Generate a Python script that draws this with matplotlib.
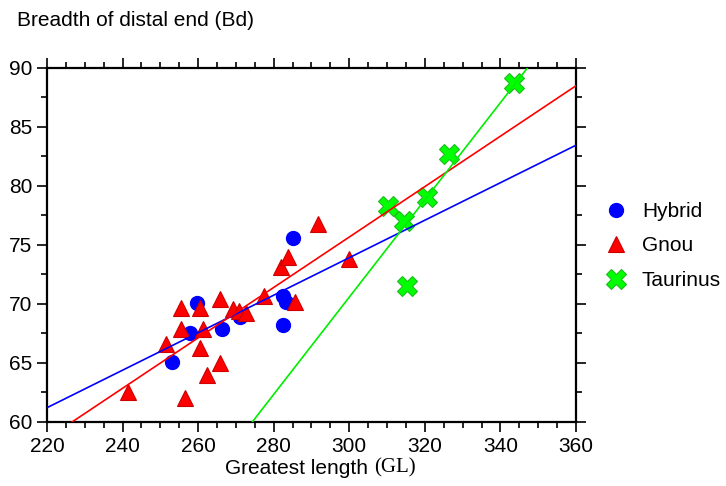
import numpy as np
import matplotlib.pyplot as plt
from matplotlib.ticker import MultipleLocator

plt.rcParams['font.family'] = ['Liberation Sans', 'DejaVu Sans']

# Greatest length (GL) / Breadth of distal end (Bd)
hybrid_gl = [253.1, 257.8, 259.7, 266.3, 271.1, 282.5, 283.2, 282.5, 285.1]
hybrid_bd = [65.1, 67.5, 70.1, 67.9, 68.9, 70.7, 70.2, 68.2, 75.6]

gnou_gl = [241.4, 251.5, 255.5, 255.5, 256.5, 260.5, 260.5, 261.3, 262.3, 265.8,
           265.8, 269.2, 270.8, 272.7, 277.4, 281.9, 283.8, 285.6, 291.7, 299.8]
gnou_bd = [62.5, 66.6, 69.7, 67.9, 62.0, 69.7, 66.3, 67.9, 64.0, 70.4,
           65.0, 69.6, 69.4, 69.2, 70.7, 73.1, 74.0, 70.2, 76.8, 73.8]

taurinus_gl = [310.2, 314.5, 320.6, 326.4, 343.6, 315.3]
taurinus_bd = [78.3, 77.0, 79.1, 82.7, 88.7, 71.5]

fs = 15

fig = plt.figure(figsize=(7.26, 4.86), dpi=100)
ax = fig.add_axes([0.0647, 0.1317, 0.7287, 0.7284])

ax.plot(hybrid_gl, hybrid_bd, 'o', color='#0000ff', ms=10, mec='#0000ff',
        ls='none', label='Hybrid', zorder=3)
ax.plot(gnou_gl, gnou_bd, '^', color='#ff0000', ms=12, mec='#cc0000', mew=0.8,
        ls='none', label='Gnou', zorder=3)
ax.plot(taurinus_gl, taurinus_bd, 'X', color='#00ff00', ms=15, mec='#22bb22', mew=0.8,
        ls='none', label='Taurinus', zorder=3)

# regression lines
xx = np.array([220, 360])
for gl, bd, c in [(hybrid_gl, hybrid_bd, '#0000ff'),
                  (gnou_gl, gnou_bd, '#ff0000'),
                  (taurinus_gl, taurinus_bd, '#00ee00')]:
    k, b = np.polyfit(gl, bd, 1)
    ax.plot(xx, k * xx + b, color=c, lw=1.2, zorder=4)

ax.set_xlim(220, 360)
ax.set_ylim(60, 90)
ax.xaxis.set_major_locator(MultipleLocator(20))
ax.xaxis.set_minor_locator(MultipleLocator(5))
ax.yaxis.set_major_locator(MultipleLocator(5))
ax.yaxis.set_minor_locator(MultipleLocator(2.5))
ax.tick_params(which='both', direction='out', top=True, right=True,
               labeltop=False, labelright=False, width=1.2, labelsize=fs)
ax.tick_params(which='major', length=7)
ax.tick_params(which='minor', length=4)
for s in ax.spines.values():
    s.set_linewidth(1.6)

fig.text(0.0234, 0.958, 'Breadth of distal end (Bd)', fontsize=fs, va='center', ha='left')

# x label: sans part + serif "(GL)", laid out side by side
t1 = fig.text(0.31, 0.037, 'Greatest length ', fontsize=fs, ha='left', va='center')
t2 = fig.text(0.5, 0.037, '(GL)', fontsize=fs, ha='left', va='center',
              family=['Liberation Serif', 'DejaVu Serif'])
fig.canvas.draw()
r = fig.canvas.get_renderer()
w1 = t1.get_window_extent(r).width / fig.bbox.width
w2 = t2.get_window_extent(r).width / fig.bbox.width
x0 = 0.441 - (w1 + w2) / 2
t1.set_x(x0)
t2.set_x(x0 + w1)

ax.legend(loc='upper left', bbox_to_anchor=(1.02, 0.645), frameon=False,
          fontsize=fs, handletextpad=0.25, labelspacing=0.74, borderaxespad=0)

fig.savefig('out.png', dpi=100)
